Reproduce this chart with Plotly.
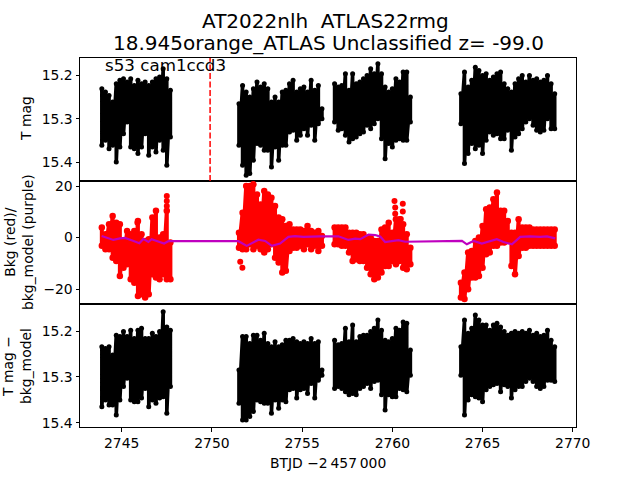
import plotly.graph_objects as go

seg_x = [
    [2743.9 + i * 0.2 for i in range(20)],
    [2751.5 + i * 0.2 for i in range(24)],
    [2756.8 + i * 0.2 for i in range(22)],
    [2763.8 + i * 0.2 for i in range(27)],
]

t_bright = [
    [15.231,15.238,15.246,15.261,15.219,15.211,15.208,15.215,15.208,15.223,15.211,15.219,15.215,15.223,15.215,15.208,15.204,15.185,15.208,15.234],
    [15.265,15.223,15.238,15.25,15.231,15.215,15.227,15.219,15.231,15.261,15.25,15.261,15.238,15.234,15.219,15.211,15.238,15.231,15.227,15.238,15.211,15.234,15.223,15.277],
    [15.219,15.227,15.223,15.196,15.234,15.196,15.219,15.215,15.208,15.2,15.185,15.196,15.173,15.196,15.227,15.238,15.231,15.208,15.215,15.192,15.192,15.25],
    [15.242,15.192,15.227,15.211,15.181,15.189,15.2,15.196,15.211,15.204,15.196,15.192,15.219,15.231,15.238,15.219,15.208,15.2,15.215,15.2,15.211,15.208,15.215,15.211,15.2,15.219,15.242],
]
t_faint = [
    [15.361,15.349,15.369,15.361,15.399,15.365,15.334,15.307,15.365,15.369,15.38,15.365,15.334,15.384,15.365,15.376,15.349,15.372,15.407,15.342],
    [15.361,15.407,15.43,15.426,15.395,15.357,15.361,15.372,15.372,15.411,15.365,15.395,15.361,15.361,15.33,15.326,15.349,15.338,15.323,15.338,15.315,15.349,15.311,15.30],
    [15.307,15.326,15.323,15.338,15.353,15.346,15.342,15.334,15.33,15.315,15.323,15.311,15.30,15.346,15.392,15.357,15.365,15.349,15.346,15.349,15.349,15.307],
    [15.311,15.403,15.38,15.357,15.369,15.361,15.38,15.349,15.33,15.338,15.334,15.346,15.346,15.326,15.372,15.342,15.334,15.323,15.307,15.30,15.315,15.326,15.33,15.326,15.30,15.323,15.323],
]
bkg_high = [
    [3.9,1.3,5.2,8.4,5.8,5.2,-1.3,2.6,1.3,2.6,6.5,1.3,-1.3,-0.6,7.8,10.4,0,1.3,10.4,-1.9],
    [1.9,9.7,20.1,20.1,20.7,16.8,12.9,18.1,16.8,15.5,12.3,7.8,7.1,4.5,5.2,3.2,3.2,3.2,2.6,4.5,2.6,1.9,2.6,0.6],
    [3.9,3.9,3.9,3.9,1.9,1.9,1.9,1.3,1.3,-0.6,0,-1.3,-1.3,3.2,3.9,5.8,1.9,7.1,7.1,5.2,1.3,-3.9],
    [-17.5,-13.6,-5.8,-5.2,-1.3,0,4.5,11,11.7,14.9,17.5,10.4,10.4,6.5,1.9,1.9,7.1,3.9,3.9,3.9,3.2,3.2,3.2,3.2,3.2,3.2,3.2],
]
bkg_low = [
    [-3.2,-4.5,-4.5,-7.8,-9.1,-14.9,-11.7,-10.4,-16.2,-17.5,-22.7,-22,-23.3,-22,-14.2,-15.5,-16.2,-14.2,-16.2,-16.2],
    [-3.9,-4.5,-4.5,-2.6,-4.5,-3.2,-4.5,-5.8,-4.5,-2.6,-7.8,-9.7,-13.6,-12.9,-5.2,-3.9,-3.9,-3.2,-4.5,-2.6,-4.5,-3.2,-5.2,-3.2],
    [-2.6,-2.6,-3.2,-3.2,-5.8,-9.1,-8.4,-9.1,-9.1,-11.7,-14.2,-16.2,-15.5,-13.6,-11,-11,-9.1,-10.4,-9.1,-11.7,-12.3,-10.4],
    [-23.3,-23.9,-20.1,-15.5,-15.5,-14.9,-11.7,-6.5,-5.8,-3.2,-3.2,-1.9,-1.9,-1.3,-11,-14.2,-7.1,-3.9,-3.9,-3.2,-3.2,-3.2,-3.2,-3.2,-3.2,-3.2,-3.2],
]
bkg_extra_x = [2747.5,2747.5,2747.5,2745.87,2751.57,2751.69,2760.12,2760.16,2760.16,2760.58,2760.58,2760.47]
bkg_extra_y = [16.2,14.2,12.3,5.8,-9.4,-11.7,14.2,11.7,9.3,13.2,10.1,7.2]

model_x = [2743.89,2744.17,2744.54,2744.91,2745.18,2745.55,2745.98,2746.2,2746.48,2746.66,2747.03,2747.35,2747.59,
           2751.47,2751.93,2752.3,2752.58,2752.95,2753.32,2753.78,2754.24,2754.61,2755.07,2756.0,2756.55,
           2757.01,2757.57,2757.94,2758.22,2758.68,2759.05,2759.33,2759.6,2759.97,2760.34,2760.71,
           2763.86,2764.13,2764.5,2764.96,2765.42,2765.79,2766.16,2766.63,2767.09,2767.64,2768.2,2768.57,2769.03]
model_y = [0.6,0,-0.9,-0.3,-0.1,-1.0,-2.2,-0.5,-1.7,-0.6,-1.6,-2.3,-1.4,
           -1.4,-3.2,-1.7,-0.8,-1.3,-3.2,-2.3,0.3,0.6,0.3,0.5,0.4,
           0.5,-0.9,-0.4,-0.6,1.2,1.0,0.4,-1.7,-1.3,-1.0,-1.6,
           -1.3,-2.6,-1.3,-2.3,-1.3,-0.6,-1.7,-2.6,0.3,0.5,0.3,0.5,-0.3]

det_bright = [
    [15.234,15.238,15.234,15.252,15.209,15.212,15.201,15.212,15.198,15.216,15.198,15.194,15.216,15.216,15.205,15.212,15.201,15.158,15.191,15.198],
    [15.285,15.212,15.212,15.227,15.209,15.209,15.22,15.205,15.227,15.234,15.223,15.234,15.23,15.22,15.22,15.216,15.223,15.227,15.223,15.227,15.216,15.227,15.223,15.285],
    [15.22,15.23,15.227,15.194,15.223,15.187,15.223,15.212,15.209,15.209,15.201,15.194,15.176,15.198,15.22,15.223,15.216,15.194,15.198,15.18,15.183,15.241],
    [15.234,15.176,15.205,15.194,15.165,15.176,15.187,15.187,15.198,15.187,15.183,15.191,15.201,15.209,15.205,15.201,15.205,15.201,15.205,15.198,15.209,15.205,15.212,15.209,15.198,15.22,15.234],
]
det_faint = [
    [15.365,15.35,15.361,15.361,15.383,15.35,15.321,15.303,15.35,15.354,15.354,15.346,15.325,15.365,15.35,15.357,15.346,15.343,15.379,15.321],
    [15.357,15.394,15.394,15.386,15.375,15.35,15.354,15.357,15.357,15.379,15.35,15.368,15.35,15.354,15.328,15.325,15.346,15.328,15.325,15.336,15.314,15.346,15.307,15.296],
    [15.325,15.321,15.325,15.332,15.339,15.336,15.339,15.325,15.321,15.314,15.325,15.31,15.307,15.339,15.372,15.339,15.343,15.343,15.325,15.328,15.332,15.296],
    [15.296,15.383,15.35,15.339,15.343,15.346,15.354,15.328,15.321,15.317,15.314,15.332,15.317,15.321,15.346,15.328,15.321,15.321,15.31,15.303,15.31,15.321,15.325,15.321,15.307,15.307,15.31],
]

event_x = 2749.9
title_line1 = "AT2022nlh  ATLAS22rmg"
title_line2 = "18.945orange_ATLAS Unclassified z= -99.0"
note_text = "s53 cam1ccd3"
FONT = "DejaVu Sans"


def zigzag(xs, a, b):
    out_x, out_y = [], []
    for s_x, s_a, s_b in zip(xs, a, b):
        for x, p, q in zip(s_x, s_a, s_b):
            out_x += [x, x]
            out_y += [p, q]
        out_x.append(None)
        out_y.append(None)
    return out_x, out_y


def band(xs, a, b, color, xa, ya, size, width):
    x, y = zigzag(xs, a, b)
    return go.Scatter(x=x, y=y, xaxis=xa, yaxis=ya, mode="lines+markers", showlegend=False,
                      line=dict(color=color, width=width),
                      marker=dict(color=color, size=size))


def page_text(text, px, py, size=13.9, angle=0):
    return dict(text=text, xref="paper", yref="paper", x=(px - 80) / 496, y=(427 - py) / 369,
                xanchor="center", yanchor="middle", showarrow=False, textangle=angle,
                font=dict(size=size, family=FONT, color="black"))


fig = go.Figure()
fig.add_trace(band(seg_x, t_bright, t_faint, "black", "x", "y", 5, 3.6))
fig.add_trace(band(seg_x, bkg_high, bkg_low, "red", "x2", "y2", 6.5, 4))
fig.add_trace(go.Scatter(x=bkg_extra_x, y=bkg_extra_y, xaxis="x2", yaxis="y2", mode="markers",
                         showlegend=False, marker=dict(color="red", size=6)))
fig.add_trace(go.Scatter(x=model_x, y=model_y, xaxis="x2", yaxis="y2", mode="lines", showlegend=False,
                         line=dict(color="#bf00bf", width=2.2)))
fig.add_trace(band(seg_x, det_bright, det_faint, "black", "x3", "y3", 5, 3.6))

X_RANGE = [2742.69, 2770.18]
common = dict(range=X_RANGE, showgrid=False, zeroline=False, showline=True, mirror=True,
              linecolor="black", linewidth=1, automargin=False)
yc = dict(showgrid=False, zeroline=False, showline=True, mirror=True, linecolor="black", linewidth=1,
          ticks="outside", ticklen=3.5, tickwidth=0.8, tickcolor="black", automargin=False)
fig.update_layout(
    width=640, height=480, autosize=False,
    margin=dict(l=80, r=64, t=58, b=53),
    paper_bgcolor="white", plot_bgcolor="white",
    font=dict(family=FONT, size=13.9, color="black"),
    xaxis=dict(**common, domain=[0, 1], anchor="y", showticklabels=False, ticks=""),
    xaxis2=dict(**common, domain=[0, 1], anchor="y2", matches="x", showticklabels=False, ticks=""),
    xaxis3=dict(**common, domain=[0, 1], anchor="y3", matches="x", tickvals=[2745, 2750, 2755, 2760, 2765, 2770],
                ticks="outside", ticklen=3.5, tickwidth=0.8, tickcolor="black"),
    yaxis=dict(**yc, domain=[2 / 3, 1], anchor="x", range=[15.443, 15.16], tickvals=[15.2, 15.3, 15.4],
               ticktext=["15.2", "15.3", "15.4"]),
    yaxis2=dict(**yc, domain=[1 / 3, 2 / 3], anchor="x2", range=[-25.8, 22.0], tickvals=[-20, 0, 20]),
    yaxis3=dict(**yc, domain=[0, 1 / 3], anchor="x3", range=[15.409, 15.141], tickvals=[15.2, 15.3, 15.4],
                ticktext=["15.2", "15.3", "15.4"]),
    shapes=[dict(type="line", xref="x", yref="y domain", x0=event_x, x1=event_x, y0=0, y1=1,
                 line=dict(color="red", width=1.5, dash="6px,2.5px"))],
    annotations=[
        page_text(title_line1, 325, 21, size=20),
        page_text(title_line2, 328, 43, size=20),
        page_text(note_text, 165.5, 64.5, size=16.7),
        page_text("T mag", 26, 119, angle=-90),
        page_text("Bkg (red)/<br>bkg_model (purple)", 19, 242, angle=-90),
        page_text("T mag \u2212<br>bkg_model", 17, 366, angle=-90),
        page_text("BTJD \u22122\u2009457\u2009000", 328, 463),
    ],
)

fig.write_html("out.html", post_script="document.body.style.margin='0';",
               config={"displayModeBar": False})
